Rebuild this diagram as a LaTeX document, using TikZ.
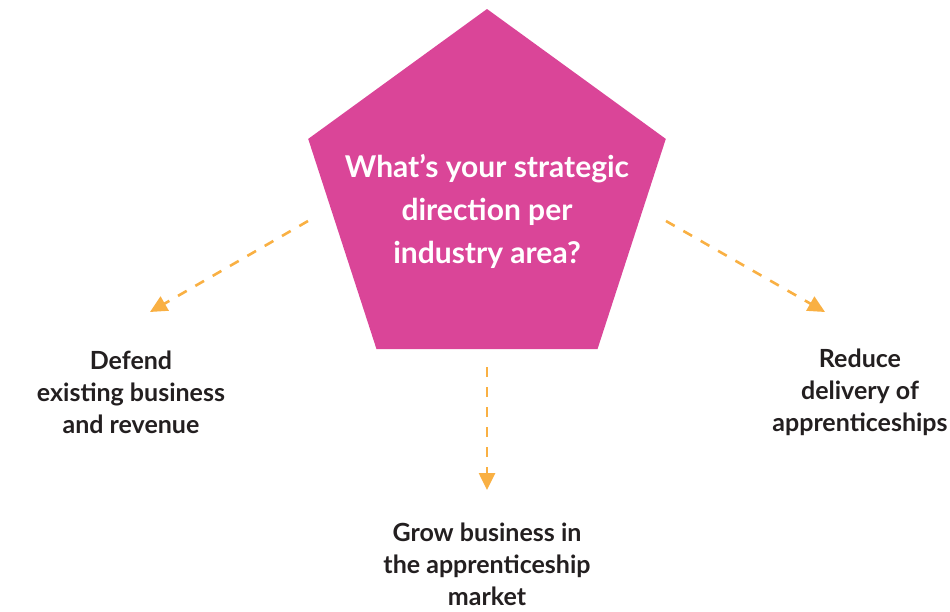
\documentclass[tikz,border=0pt]{standalone}
\usepackage{fontspec}
\setmainfont{Lato}
\usepackage{xcolor}
\usetikzlibrary{shapes.geometric,arrows.meta}

\definecolor{qpink}{HTML}{DA4598}
\definecolor{qorange}{HTML}{F9B043}
\definecolor{qtext}{HTML}{231F20}

\tikzset{
  choice/.style={align=center,text=qtext,inner sep=2pt,font=\bfseries\fontsize{25}{32}\selectfont},
  flow/.style={draw=qorange,line width=2.6pt,dash pattern=on 10pt off 10pt,
               -{Triangle[length=17pt,width=16pt]}}
}

\begin{document}
\begin{tikzpicture}[x=1pt,y=-1pt]
                \useasboundingbox (0,0) rectangle (950,611);

                \node (q) at (487,197) [regular polygon,regular polygon sides=5,minimum size=376pt,inner sep=0pt,outer sep=0pt,fill=qpink] {};
                \node (qlabel) at (487,211) [align=center,text=white,font=\bfseries\fontsize{30}{43}\selectfont] {What’s your strategic\\direction per\\industry area?};

                \node (defend) at (131,392) [choice] {Defend\\existing business\\and revenue};
                \node (grow) at (487,564) [choice] {Grow business in\\the apprenticeship\\market};
                \node (reduce) at (860,392) [choice] {Reduce\\delivery of\\apprenticeships};

                \coordinate (l0) at (308,221); \coordinate (l1) at (150,312);
                \coordinate (d0) at (487,367); \coordinate (d1) at (487,490);
                \coordinate (r0) at (666,221); \coordinate (r1) at (825,312);

                \draw[flow] (l0) -- (l1);
                \draw[flow] (d0) -- (d1);
                \draw[flow] (r0) -- (r1);
    
            \end{tikzpicture}
\end{document}
